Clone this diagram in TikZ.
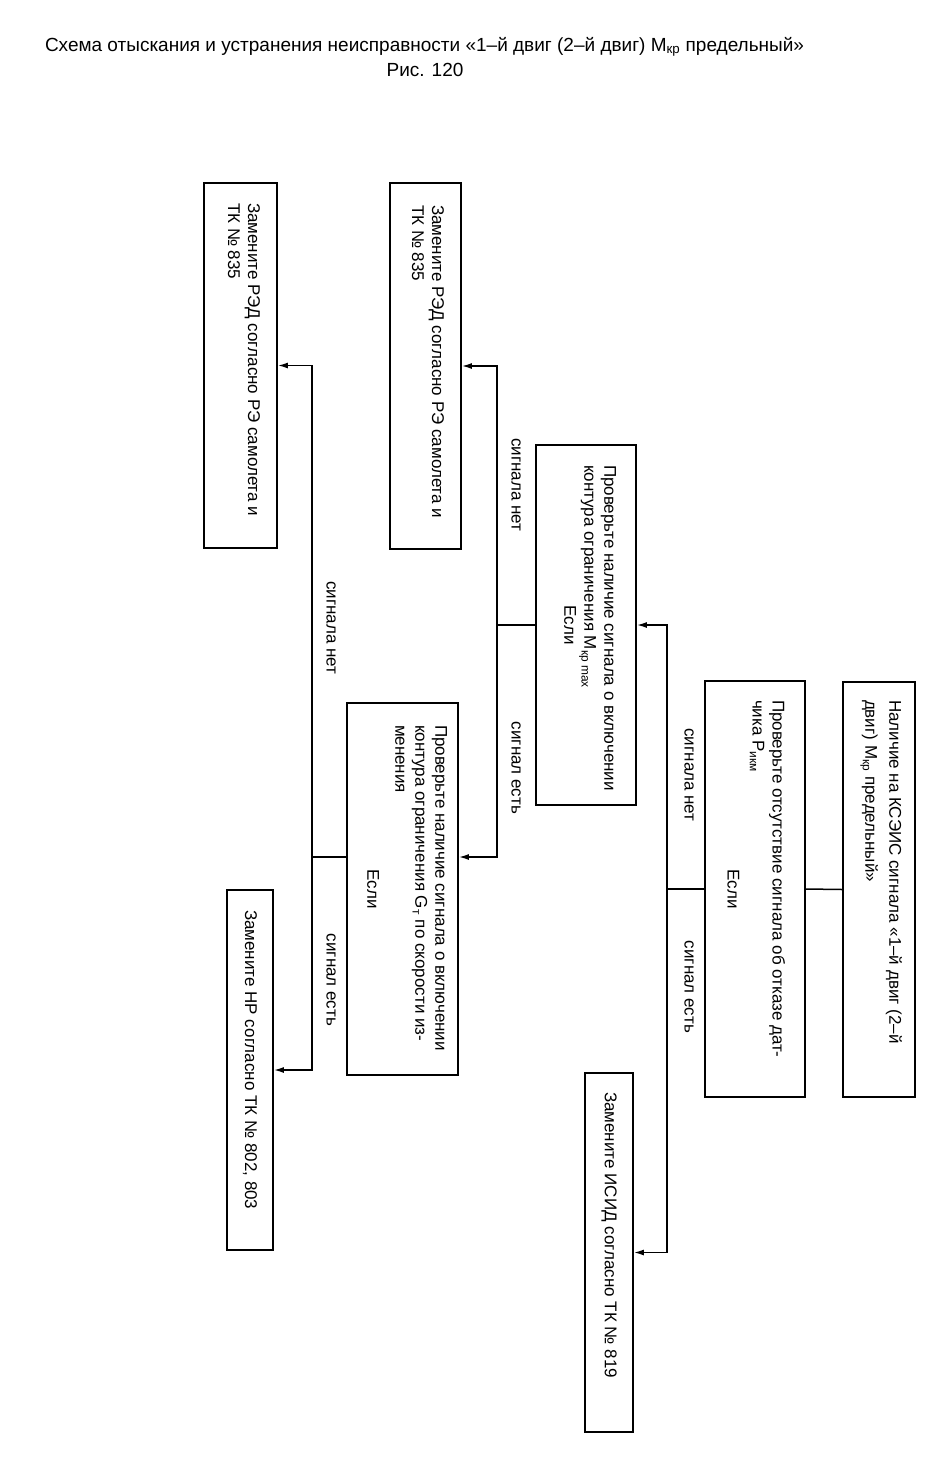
\documentclass[tikz,border=0pt]{standalone}
\usepackage{fontspec}
\setmainfont{Liberation Sans}
\usetikzlibrary{arrows.meta}
\tikzset{
  blk/.style={draw, line width=1.8pt, rotate=-90, inner sep=0pt, font=\fontsize{17}{20}\selectfont},
  lbl/.style={rotate=-90, inner sep=0pt, font=\fontsize{17}{20}\selectfont},
  ttl/.style={inner sep=0pt, font=\fontsize{19}{22}\selectfont},
  con/.style={line width=1.5pt},
  arr/.style={con, -{Latex[length=10pt,width=6pt]}},
}
\begin{document}
\begin{tikzpicture}[x=1pt,y=-1pt]
\useasboundingbox (0,0) rectangle (951,1483);
% title
\node[ttl] (title) at (424.5,47) {Схема отыскания и устранения неисправности «1–й двиг (2–й двиг) M\textsubscript{кр} предельный»};
\node[ttl] (fig) at (425,70) {Рис. 120};
% boxes
\node[blk, minimum width=415pt, minimum height=72pt] (b1) at (879,889.5)
  {\parbox[c][46pt][t]{379pt}{\raggedright \mbox{Наличие на КСЭИС сигнала «1–й двиг (2–й}\\[4pt] \mbox{двиг) M\textsubscript{кр} предельный»}}};
\node[blk, minimum width=416pt, minimum height=100pt] (b2) at (755,889)
  {\parbox[c][60pt][t]{378pt}{\raggedright \mbox{Проверьте отсутствие сигнала об отказе дат-}\\ \mbox{чика P\textsubscript{икм}}\\[5pt] \makebox[\linewidth]{Если}}};
\node[blk, minimum width=360pt, minimum height=100pt] (b3) at (586,625)
  {\parbox[c][60pt][t]{320pt}{\raggedright \mbox{Проверьте наличие сигнала о включении}\\ \mbox{контура ограничения M\textsubscript{кр max}}\\[0pt] \makebox[\linewidth]{Если}}};
\node[blk, minimum width=366pt, minimum height=71pt] (b4) at (425.5,366)
  {\parbox[c][37pt][t]{322pt}{\raggedright \mbox{Замените РЭД согласно РЭ самолета и}\\ ТК № 835}};
\node[blk, minimum width=372pt, minimum height=111pt] (b5) at (402.5,889)
  {\parbox[c][89pt][t]{328pt}{\raggedright \mbox{Проверьте наличие сигнала о включении}\\ \mbox{контура ограничения G\textsubscript{т} по скорости из-}\\ менения\\[8pt] \makebox[\linewidth]{Если}}};
\node[blk, minimum width=365pt, minimum height=73pt] (b6) at (240.5,365.5)
  {\parbox[c][39pt][t]{325pt}{\raggedright \mbox{Замените РЭД согласно РЭ самолета и}\\ ТК № 835}};
\node[blk, minimum width=360pt, minimum height=46pt] (b7) at (250,1070)
  {\parbox{320pt}{\raggedright Замените НР согласно ТК № 802, 803}};
\node[blk, minimum width=359pt, minimum height=48pt] (b8) at (609,1252.5)
  {\parbox{321pt}{\raggedright Замените ИСИД согласно ТК № 819}};
% junctions
\coordinate (j1) at (667,889);
\coordinate (j2) at (497,625);
\coordinate (j3) at (312,857);
% connectors
\draw[con] (b1.south) -- (b2.north);
\draw[con] (b2.south) -- (j1);
\draw[arr] (j1) |- (b3.north);
\draw[arr] (j1) |- (b8.north);
\draw[con] (b3.south) -- (j2);
\draw[arr] (j2) |- (b4.north);
\draw[arr] (j2) |- ([yshift=32pt]b5.north);
\draw[con] ([yshift=32pt]b5.south) -- (j3);
\draw[arr] (j3) |- (b6.north);
\draw[arr] (j3) |- (b7.north);
% labels
\node[lbl] (l1) at (689,775) {сигнала нет};
\node[lbl] (l2) at (689,987) {сигнал есть};
\node[lbl] (l3) at (516,485) {сигнала нет};
\node[lbl] (l4) at (516,768) {сигнал есть};
\node[lbl] (l5) at (331,628) {сигнала нет};
\node[lbl] (l6) at (331,980) {сигнал есть};
\end{tikzpicture}
\end{document}
